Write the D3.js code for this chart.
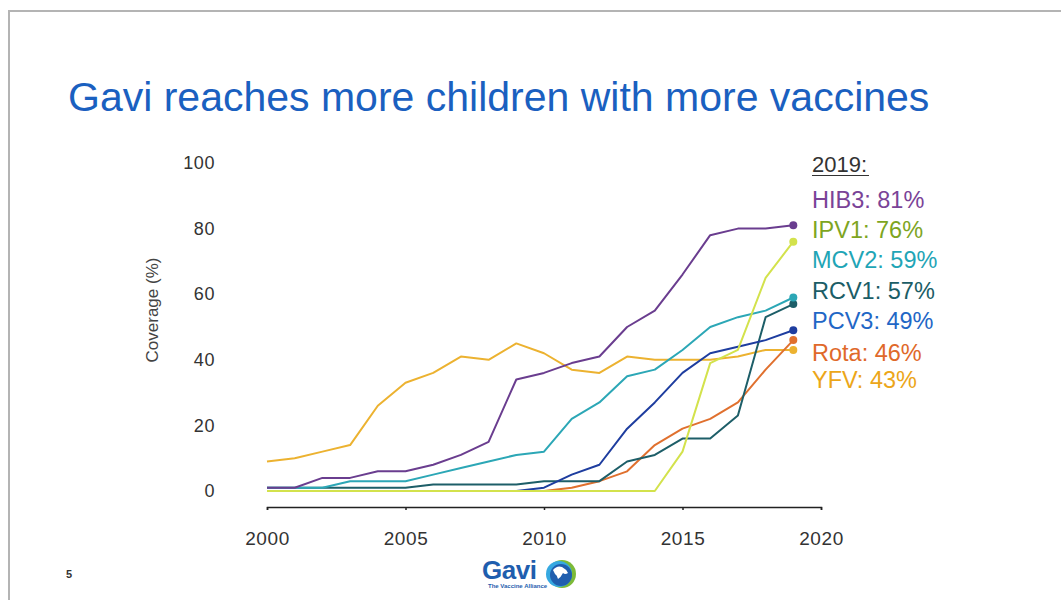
<!DOCTYPE html>
<html>
<head>
<meta charset="utf-8">
<script src="https://cdn.jsdelivr.net/npm/d3@7"></script>
<style>
  body { margin: 0; background: #fff; }
  svg { display: block; font-family: "Liberation Sans", Arial, sans-serif; }
</style>
</head>
<body>
<div id="chart"></div>
<script>
/* COVERAGE DATA */

var years = [2000, 2001, 2002, 2003, 2004, 2005, 2006, 2007, 2008, 2009,
             2010, 2011, 2012, 2013, 2014, 2015, 2016, 2017, 2018, 2019];

var hib3 = [1, 1, 4, 4, 6, 6, 8, 11, 15, 34, 36, 39, 41, 50, 55, 66, 78, 80, 80, 81];
var ipv1 = [0, 0, 0, 0, 0, 0, 0, 0, 0, 0, 0, 0, 0, 0, 0, 12, 39, 43, 65, 76];
var mcv2 = [1, 1, 1, 3, 3, 3, 5, 7, 9, 11, 12, 22, 27, 35, 37, 43, 50, 53, 55, 59];
var rcv1 = [1, 1, 1, 1, 1, 1, 2, 2, 2, 2, 3, 3, 3, 9, 11, 16, 16, 23, 53, 57];
var pcv3 = [0, 0, 0, 0, 0, 0, 0, 0, 0, 0, 1, 5, 8, 19, 27, 36, 42, 44, 46, 49];
var rota = [0, 0, 0, 0, 0, 0, 0, 0, 0, 0, 0, 1, 3, 6, 14, 19, 22, 27, 37, 46];
var yfv  = [9, 10, 12, 14, 26, 33, 36, 41, 40, 45, 42, 37, 36, 41, 40, 40, 40, 41, 43, 43];

var vaccineNames = ["HIB3", "IPV1", "MCV2", "RCV1", "PCV3", "Rota", "YFV"];
var vaccineValues = [hib3, ipv1, mcv2, rcv1, pcv3, rota, yfv];
var lineColors  = ["#6a3d8f", "#d3e24c", "#2ca7b6", "#1d5e68", "#1e3d9f", "#e0702e", "#ecb230"];
var labelColors = ["#7a4397", "#7ea51f", "#1fa5b6", "#1b5d66", "#1f67c6", "#e0692a", "#eca619"];

var xTicks = [2000, 2005, 2010, 2015, 2020];
var yTicks = [0, 20, 40, 60, 80, 100];

function drawCoverage(){

  var w = 1061;
  var h = 601;

  var svg = d3.select("#chart").append("svg")
              .attr("width", w)
              .attr("height", h);

  // slide frame
  svg.append("path")
     .attr("d", "M9,600 L9,11 L1061,11")
     .attr("fill", "none")
     .attr("stroke", "#b4b4b4")
     .attr("stroke-width", 2);

  svg.append("text")
     .attr("x", 68)
     .attr("y", 111)
     .attr("fill", "#1a60c0")
     .style("font-size", "41px")
     .text("Gavi reaches more children with more vaccines");

  var x = d3.scaleLinear().domain([2000, 2020]).range([267, 821]);
  var y = d3.scaleLinear().domain([0, 100]).range([491, 163]);

  // x axis
  var xAxis = svg.append("g")
                 .attr("transform", "translate(0,507)")
                 .call(d3.axisBottom(x).tickValues(xTicks).tickFormat(d3.format("d")).tickSize(3).tickSizeOuter(3).tickPadding(22));

  xAxis.select(".domain").attr("stroke", "#222").attr("stroke-width", 1.5);
  xAxis.selectAll(".tick line").attr("stroke", "#222").attr("stroke-width", 1.5);
  xAxis.selectAll("text")
       .attr("fill", "#333")
       .style("font-size", "19px")
       .style("letter-spacing", "0.6px")
       .style("font-family", "'Liberation Sans', Arial, sans-serif");

  // y axis, labels only
  var yAxis = svg.append("g")
                 .attr("transform", "translate(215,0)")
                 .call(d3.axisLeft(y).tickValues(yTicks).tickSize(0).tickPadding(0));

  yAxis.select(".domain").remove();
  yAxis.selectAll("text")
       .attr("fill", "#333")
       .style("font-size", "18px")
       .style("letter-spacing", "0.6px")
       .style("font-family", "'Liberation Sans', Arial, sans-serif");

  svg.append("text")
     .attr("transform", "translate(158,310) rotate(-90)")
     .attr("text-anchor", "middle")
     .attr("fill", "#444")
     .style("font-size", "17px")
     .text("Coverage (%)");

  // series lines, drawn so the later ones sit under earlier ones
  var line = d3.line()
               .x(function(d, i){ return x(years[i]); })
               .y(function(d){ return y(d); });

  var order = [6, 5, 3, 4, 2, 1, 0];

  order.forEach(function(k){
    svg.append("path")
       .datum(vaccineValues[k])
       .attr("d", line)
       .attr("fill", "none")
       .attr("stroke", lineColors[k])
       .attr("stroke-width", 2)
       .attr("stroke-linejoin", "round");
  });

  order.forEach(function(k){
    var last = vaccineValues[k].length - 1;
    svg.append("circle")
       .attr("cx", x(years[last]))
       .attr("cy", y(vaccineValues[k][last]))
       .attr("r", 4)
       .attr("fill", lineColors[k]);
  });

  // 2019 labels
  var legend = svg.append("g")
                  .attr("transform", "translate(812,0)");

  legend.append("text")
        .attr("x", 0)
        .attr("y", 172)
        .attr("fill", "#333")
        .style("font-size", "22px")
        .text("2019:");

  legend.append("line")
        .attr("x1", 0).attr("x2", 57)
        .attr("y1", 175.5).attr("y2", 175.5)
        .attr("stroke", "#333")
        .attr("stroke-width", 1.2);

  var baselines = [208, 238, 268, 299, 329, 361, 388];

  vaccineNames.forEach(function(name, i){
    var vals = vaccineValues[i];
    legend.append("text")
          .attr("x", 0)
          .attr("y", baselines[i])
          .attr("fill", labelColors[i])
          .style("font-size", "23.5px")
          .text(name + ": " + vals[vals.length - 1] + "%");
  });

  // page number
  svg.append("text")
     .attr("x", 66)
     .attr("y", 578)
     .attr("fill", "#333")
     .style("font-size", "11px")
     .style("font-weight", "bold")
     .text("5");

  // logo
  var logo = svg.append("g");

  logo.append("text")
      .attr("x", 482)
      .attr("y", 579)
      .attr("fill", "#1f5eae")
      .style("font-size", "26px")
      .style("font-weight", "bold")
      .style("letter-spacing", "-0.5px")
      .text("Gavi");

  logo.append("text")
      .attr("x", 488)
      .attr("y", 588)
      .attr("fill", "#1f5eae")
      .style("font-size", "6px")
      .style("font-weight", "bold")
      .text("The Vaccine Alliance");

  logo.append("circle")
      .attr("cx", 562).attr("cy", 574).attr("r", 14)
      .attr("fill", "#7cba38");
  logo.append("circle")
      .attr("cx", 559).attr("cy", 574).attr("r", 13)
      .attr("fill", "#36a9e1");
  logo.append("circle")
      .attr("cx", 561).attr("cy", 575).attr("r", 11)
      .attr("fill", "#1f5eae");
  logo.append("path")
      .attr("d", "M553,570 q4,-5 9,-3 q4,2 6,6 q-3,2 -5,0 q-2,4 -5,6 q-1,-4 -3,-5 z")
      .attr("fill", "#ffffff");

};

drawCoverage();
</script>
</body>
</html>
